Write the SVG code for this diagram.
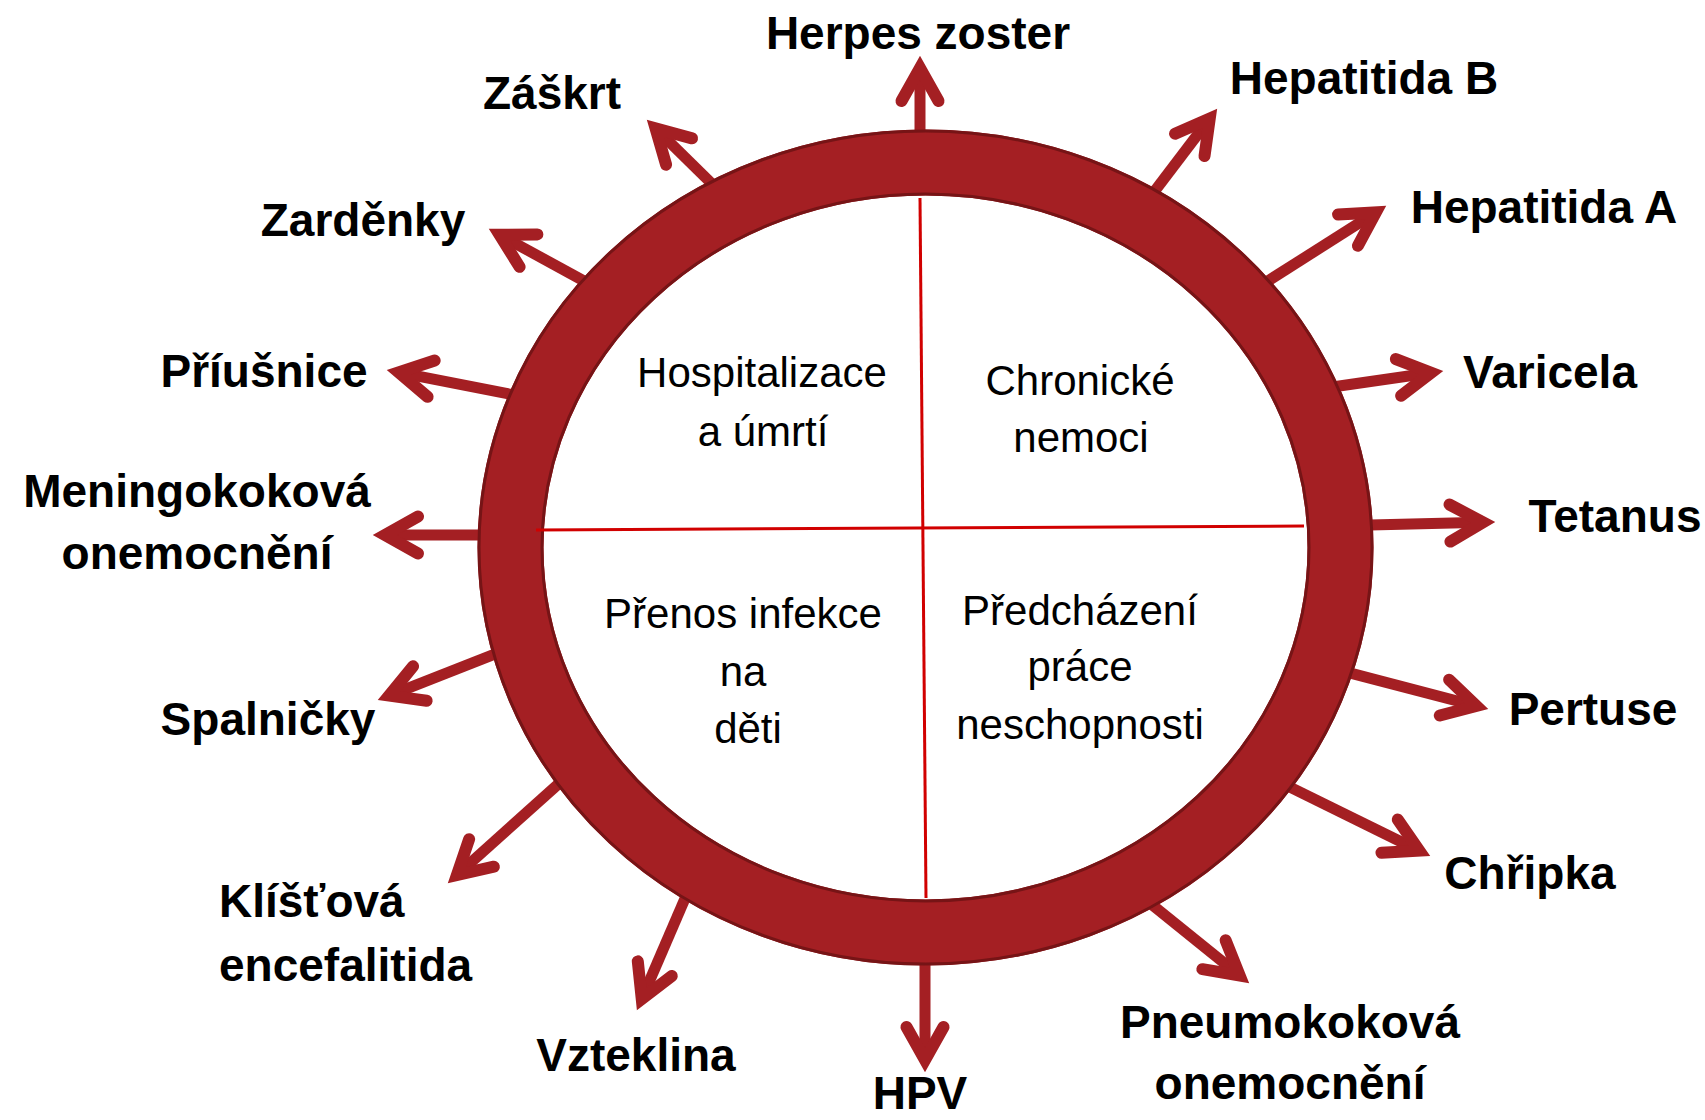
<svg xmlns="http://www.w3.org/2000/svg" xmlns:xlink="http://www.w3.org/1999/xlink" width="1705" height="1120" viewBox="0 0 1705 1120">
  <style>
    .shaft { stroke: #a41f23; stroke-width: 11; fill: none; }
    .head { stroke: #a41f23; stroke-width: 12; fill: none; stroke-linecap: round; stroke-linejoin: miter; stroke-miterlimit: 10; }
    .lbl { font-family: "Liberation Sans", Arial, sans-serif; font-weight: bold; font-size: 46px; fill: #000; text-anchor: middle; }
    .lbl-l { font-family: "Liberation Sans", Arial, sans-serif; font-weight: bold; font-size: 46px; fill: #000; text-anchor: start; }
    .quad { font-family: "Liberation Sans", Arial, sans-serif; font-size: 42px; fill: #000; text-anchor: middle; }
    .div { stroke: #d10000; stroke-width: 3; fill: none; }
  </style>
  <defs>
    <polyline id="head" class="head" points="-45,-18.5 -12,0 -45,18.5"/>
  </defs>
  <rect width="1705" height="1120" fill="#ffffff"/>

  <g id="connectors">
    <g transform="translate(920,56) rotate(-90)"><line class="shaft" x1="-84" y1="0" x2="-12" y2="0"/><use xlink:href="#head" href="#head"/></g>
    <g transform="translate(647,120) rotate(-135.5)"><line class="shaft" x1="-99" y1="0" x2="-12" y2="0"/><use xlink:href="#head" href="#head"/></g>
    <g transform="translate(1217,109) rotate(-52.8)"><line class="shaft" x1="-111" y1="0" x2="-12" y2="0"/><use xlink:href="#head" href="#head"/></g>
    <g transform="translate(489,229) rotate(-151.3)"><line class="shaft" x1="-118" y1="0" x2="-12" y2="0"/><use xlink:href="#head" href="#head"/></g>
    <g transform="translate(1386,206) rotate(-32.4)"><line class="shaft" x1="-148" y1="0" x2="-12" y2="0"/><use xlink:href="#head" href="#head"/></g>
    <g transform="translate(387,370) rotate(-168.9)"><line class="shaft" x1="-136" y1="0" x2="-12" y2="0"/><use xlink:href="#head" href="#head"/></g>
    <g transform="translate(1443,371) rotate(-8.2)"><line class="shaft" x1="-117" y1="0" x2="-12" y2="0"/><use xlink:href="#head" href="#head"/></g>
    <g transform="translate(373,535) rotate(180)"><line class="shaft" x1="-117" y1="0" x2="-12" y2="0"/><use xlink:href="#head" href="#head"/></g>
    <g transform="translate(1495,522) rotate(-1.4)"><line class="shaft" x1="-135" y1="0" x2="-12" y2="0"/><use xlink:href="#head" href="#head"/></g>
    <g transform="translate(378,700) rotate(158.5)"><line class="shaft" x1="-135" y1="0" x2="-12" y2="0"/><use xlink:href="#head" href="#head"/></g>
    <g transform="translate(1488,709) rotate(14.6)"><line class="shaft" x1="-150" y1="0" x2="-12" y2="0"/><use xlink:href="#head" href="#head"/></g>
    <g transform="translate(448,883) rotate(138.1)"><line class="shaft" x1="-156" y1="0" x2="-12" y2="0"/><use xlink:href="#head" href="#head"/></g>
    <g transform="translate(1430,856) rotate(26.2)"><line class="shaft" x1="-164" y1="0" x2="-12" y2="0"/><use xlink:href="#head" href="#head"/></g>
    <g transform="translate(637,1010) rotate(113.3)"><line class="shaft" x1="-131" y1="0" x2="-12" y2="0"/><use xlink:href="#head" href="#head"/></g>
    <g transform="translate(925,1072) rotate(90)"><line class="shaft" x1="-119" y1="0" x2="-12" y2="0"/><use xlink:href="#head" href="#head"/></g>
    <g transform="translate(1249,983) rotate(38.9)"><line class="shaft" x1="-131" y1="0" x2="-12" y2="0"/><use xlink:href="#head" href="#head"/></g>
  </g>

  <g id="ring">
    <ellipse cx="925.5" cy="547.5" rx="415" ry="385" fill="#ffffff" stroke="#a41f23" stroke-width="66"/>
    <ellipse cx="925.5" cy="547.5" rx="446.5" ry="416.5" fill="none" stroke="#761416" stroke-width="3"/>
    <ellipse cx="925.5" cy="547.5" rx="383.5" ry="353.5" fill="none" stroke="#761416" stroke-width="3"/>
  </g>

  <g id="dividers">
    <line class="div" x1="920" y1="198" x2="926" y2="898"/>
    <line class="div" x1="536" y1="530" x2="1304" y2="526"/>
  </g>

  <g id="q-hospitalizace">
    <text class="quad" x="762" y="387">Hospitalizace</text>
    <text class="quad" x="763" y="446">a úmrtí</text>
  </g>
  <g id="q-chronicke">
    <text class="quad" x="1080" y="395">Chronické</text>
    <text class="quad" x="1081" y="452">nemoci</text>
  </g>
  <g id="q-prenos">
    <text class="quad" x="743" y="628">Přenos infekce</text>
    <text class="quad" x="743" y="686">na</text>
    <text class="quad" x="748" y="743">děti</text>
  </g>
  <g id="q-predchazeni">
    <text class="quad" x="1080" y="625">Předcházení</text>
    <text class="quad" x="1080" y="681">práce</text>
    <text class="quad" x="1080" y="739">neschopnosti</text>
  </g>

  <g id="n-herpes"><text class="lbl" x="918" y="49">Herpes zoster</text></g>
  <g id="n-zaskrt"><text class="lbl" x="552" y="109">Záškrt</text></g>
  <g id="n-hepb"><text class="lbl" x="1364" y="94">Hepatitida B</text></g>
  <g id="n-zardenky"><text class="lbl" x="363" y="236">Zarděnky</text></g>
  <g id="n-hepa"><text class="lbl" x="1544" y="223">Hepatitida A</text></g>
  <g id="n-priusnice"><text class="lbl" x="264" y="387">Příušnice</text></g>
  <g id="n-varicela"><text class="lbl" x="1550" y="388">Varicela</text></g>
  <g id="n-meningo">
    <text class="lbl" x="197" y="507">Meningokoková</text>
    <text class="lbl" x="197" y="569">onemocnění</text>
  </g>
  <g id="n-tetanus"><text class="lbl" x="1615" y="532">Tetanus</text></g>
  <g id="n-spalnicky"><text class="lbl" x="268" y="735">Spalničky</text></g>
  <g id="n-pertuse"><text class="lbl" x="1593" y="725">Pertuse</text></g>
  <g id="n-klistova">
    <text class="lbl-l" x="219" y="917">Klíšťová</text>
    <text class="lbl-l" x="219" y="981">encefalitida</text>
  </g>
  <g id="n-chripka"><text class="lbl" x="1530" y="889">Chřipka</text></g>
  <g id="n-vzteklina"><text class="lbl" x="636" y="1071">Vzteklina</text></g>
  <g id="n-hpv"><text class="lbl" x="920" y="1109">HPV</text></g>
  <g id="n-pneumo">
    <text class="lbl" x="1290" y="1038">Pneumokoková</text>
    <text class="lbl" x="1290" y="1099">onemocnění</text>
  </g>
</svg>
